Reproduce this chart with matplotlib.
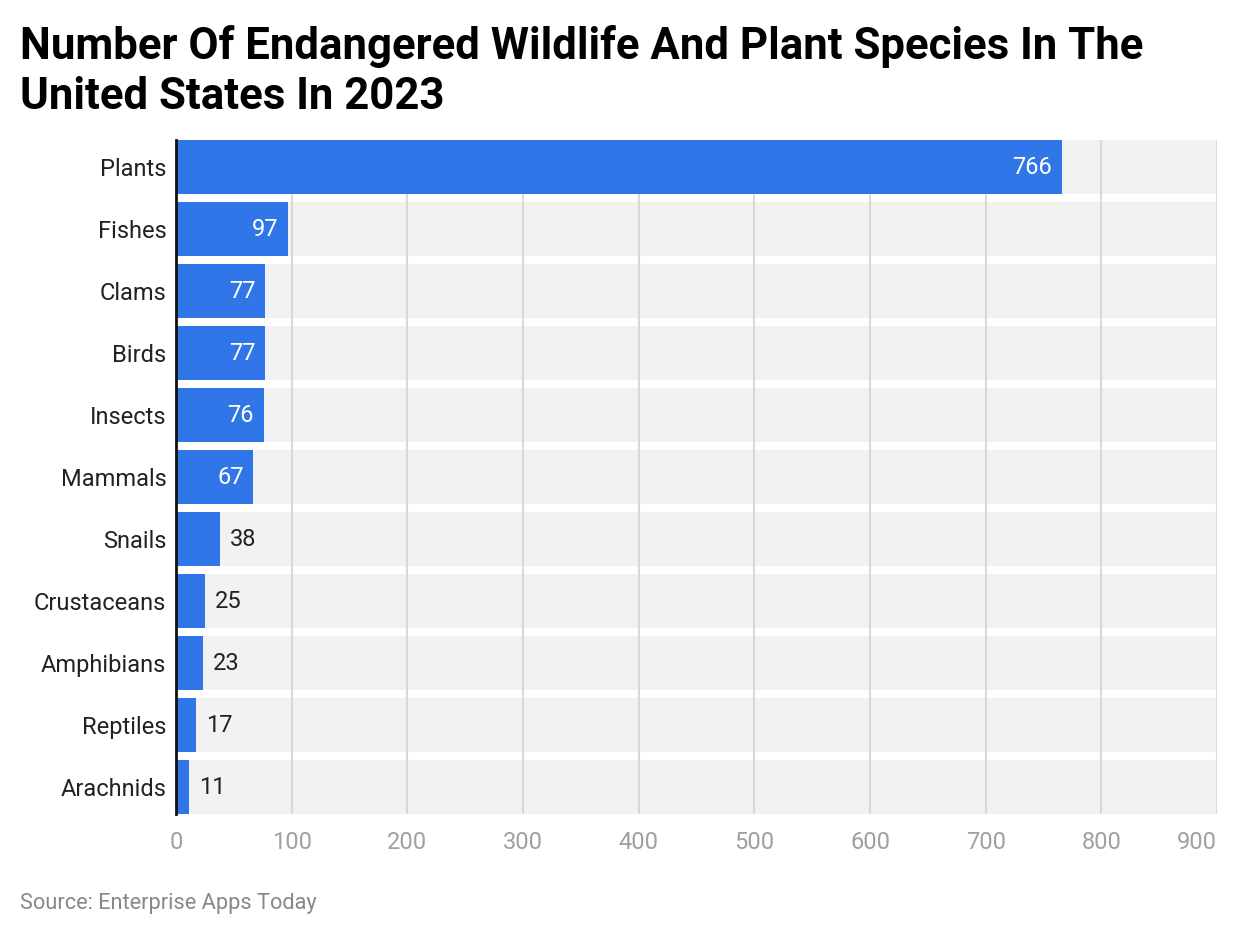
import matplotlib.pyplot as plt
import numpy as np

plt.rcParams['font.family'] = ['Roboto', 'DejaVu Sans']

# data, top to bottom
categories = ["Plants", "Fishes", "Clams", "Birds", "Insects", "Mammals",
              "Snails", "Crustaceans", "Amphibians", "Reptiles", "Arachnids"]
counts = [766, 97, 77, 77, 76, 67, 38, 25, 23, 17, 11]
x_ticks = [0, 100, 200, 300, 400, 500, 600, 700, 800, 900]

bar_color = "#3176e8"
band_color = "#f2f2f2"

fig = plt.figure(figsize=(12.4, 9.36), dpi=100)
ax = fig.add_axes([176 / 1240, 1 - 814 / 936, (1217 - 176) / 1240, 674 / 936])

y = np.arange(len(categories))
h = 54 / 62
xmax = 900

# grey background bands behind every row
ax.barh(y, [xmax] * len(y), height=h, color=band_color, zorder=0)
for t in x_ticks[1:]:
    ax.axvline(t, color="#d9d9d9", lw=1.5, zorder=1)
ax.barh(y, counts, height=h, color=bar_color, zorder=2)

ax.set_xlim(0, xmax)
ax.set_ylim(len(y) - 1 + h / 2, -h / 2)

# value labels: inside for long bars, outside for short
for yi, v in zip(y, counts):
    if v > 50:
        ax.text(v - 8.5, yi, str(v), ha="right", va="center", color="white",
                fontsize=17, zorder=3)
    else:
        ax.text(v + 9, yi, str(v), ha="left", va="center", color="#222222",
                fontsize=17, zorder=3)

ax.set_yticks(y)
ax.set_yticklabels(categories, fontsize=17, color="#222222")
for lbl in ax.get_yticklabels():
    lbl.set_va("center_baseline")
ax.set_xticks(x_ticks)
ax.set_xticklabels([str(t) for t in x_ticks], fontsize=17, color="#a0a0a0")
ax.get_xticklabels()[-1].set_ha("right")
ax.tick_params(axis="both", length=0)
ax.tick_params(axis="y", pad=7)
ax.tick_params(axis="x", pad=12)

for s in ["top", "right", "bottom"]:
    ax.spines[s].set_visible(False)
ax.spines["left"].set_color("#111111")
ax.spines["left"].set_linewidth(2)
ax.spines["left"].set_zorder(4)

fig.text(20 / 1240, 1 - 47 / 936, "Number Of Endangered Wildlife And Plant Species In The",
         fontsize=31.5, fontweight="bold", va="center", ha="left")
fig.text(20 / 1240, 1 - 97 / 936, "United States In 2023",
         fontsize=31.5, fontweight="bold", va="center", ha="left")
fig.text(20 / 1240, 1 - 903 / 936, "Source: Enterprise Apps Today",
         fontsize=15.7, color="#888888", va="center", ha="left")

fig.savefig("out.png", dpi=100)
